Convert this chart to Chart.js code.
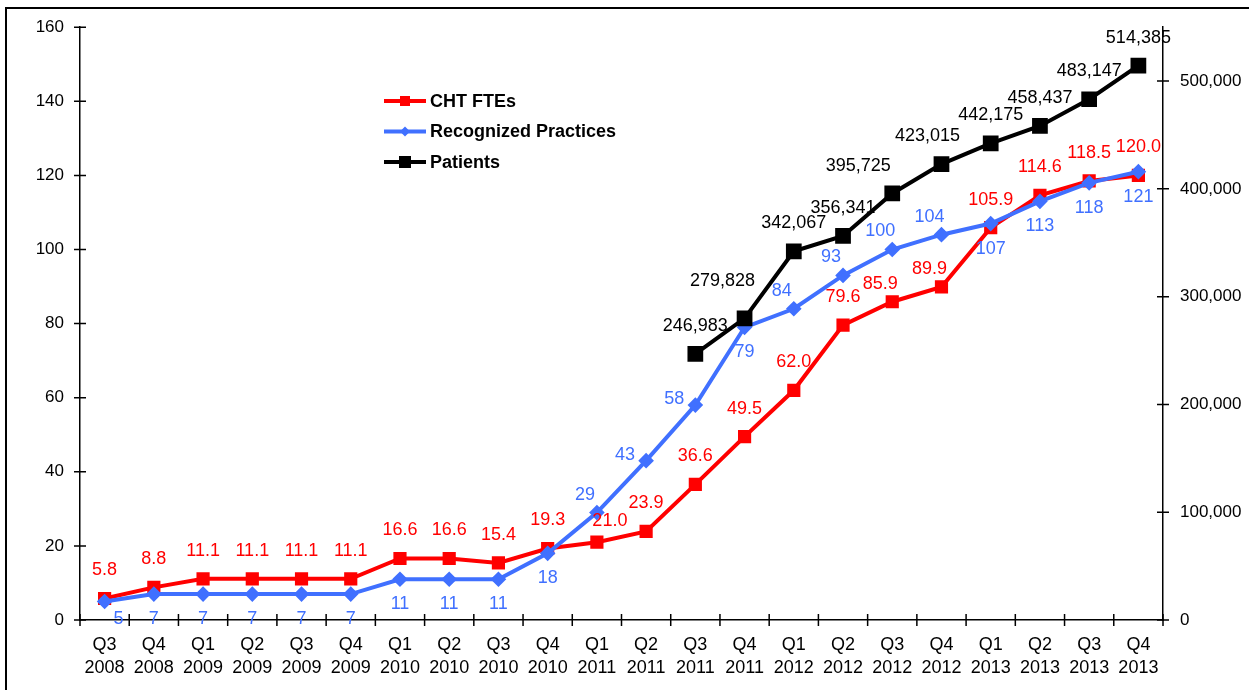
<!DOCTYPE html>
<html lang="en">
<head>
<meta charset="UTF-8">
<title>CHT FTEs, Recognized Practices and Patients</title>
<script src="https://cdn.jsdelivr.net/npm/chart.js"></script>
<style>
  html, body { margin: 0; padding: 0; background: #fff; }
  #wrap { position: relative; width: 1249px; height: 690px; }
</style>
</head>
<body>
<div id="wrap"><canvas id="chart" width="1249" height="690"></canvas></div>

<script>
    // categories
    const quarters = ['Q3', 'Q4', 'Q1', 'Q2', 'Q3', 'Q4', 'Q1', 'Q2', 'Q3', 'Q4', 'Q1',
                      'Q2', 'Q3', 'Q4', 'Q1', 'Q2', 'Q3', 'Q4', 'Q1', 'Q2', 'Q3', 'Q4'];
    const years = ['2008', '2008', '2009', '2009', '2009', '2009', '2010', '2010', '2010', '2010', '2011',
                   '2011', '2011', '2011', '2012', '2012', '2012', '2012', '2013', '2013', '2013', '2013'];

    // series
    const chtFtes = [5.8, 8.8, 11.1, 11.1, 11.1, 11.1, 16.6, 16.6, 15.4, 19.3, 21.0,
                     23.9, 36.6, 49.5, 62.0, 79.6, 85.9, 89.9, 105.9, 114.6, 118.5, 120.0];
    const practices = [5, 7, 7, 7, 7, 7, 11, 11, 11, 18, 29,
                       43, 58, 79, 84, 93, 100, 104, 107, 113, 118, 121];
    const patients = [null, null, null, null, null, null, null, null, null, null, null,
                      null, 246983, 279828, 342067, 356341, 395725, 423015, 442175, 458437, 483147, 514385];

    // axes
    const leftTicks = [0, 20, 40, 60, 80, 100, 120, 140, 160];
    const rightTicks = [0, 100000, 200000, 300000, 400000, 500000];

    // where each value label sits relative to its point
    const ftesSpots = ['n', 'n', 'n', 'n', 'n', 'n', 'n', 'n', 'n', 'n', 'ne',
                       'n', 'n', 'n', 'n', 'n', 'nw', 'nw', 'n', 'n', 'n', 'n'];
    const practiceSpots = ['se', 's', 's', 's', 's', 's', 's', 's', 's', 's', 'nw',
                           'w', 'w', 's', 'nw', 'nw', 'nw', 'nw', 's', 's', 's', 's'];
    const patientSpots = [null, null, null, null, null, null, null, null, null, null, null,
                          null, 'n', 'nwh', 'n', 'n', 'nww', 'nnw', 'n', 'n', 'n', 'n'];

    const RED = '#ff0000';
    const BLUE = '#4070ff';
    const BLACK = '#000000';
    const FONT = '"Liberation Sans", Arial, sans-serif';

    const spotOffset = {
        n: [0, -28], ne: [13, -21], s: [0, 25], se: [14, 18], nw: [-12, -18], w: [-21, -6],
        nwh: [-22, -37], nww: [-34, -27], nnw: [-14, -28]
    };

    const extras = {
        id: 'extras',
        beforeDraw(chart) {
            const ctx = chart.ctx;
            ctx.save();
            ctx.strokeStyle = '#000';
            ctx.lineWidth = 2;
            ctx.beginPath();
            ctx.moveTo(6, 690);
            ctx.lineTo(6, 8);
            ctx.lineTo(1249, 8);
            ctx.stroke();
            ctx.restore();
        },
        afterDraw(chart) {
            const ctx = chart.ctx;
            const area = chart.chartArea;
            const y = chart.scales.y, y1 = chart.scales.y1;
            ctx.save();
            ctx.strokeStyle = '#000';
            ctx.lineWidth = 1.5;
            ctx.beginPath();
            leftTicks.forEach(v => {
                const p = y.getPixelForValue(v);
                ctx.moveTo(area.left - 6, p); ctx.lineTo(area.left + 6, p);
            });
            rightTicks.forEach(v => {
                const p = y1.getPixelForValue(v);
                ctx.moveTo(area.right - 6, p); ctx.lineTo(area.right + 6, p);
            });
            const step = (area.right - area.left) / quarters.length;
            for (let i = 0; i <= quarters.length; i++) {
                const px = area.left + i * step;
                ctx.moveTo(px, area.bottom - 6); ctx.lineTo(px, area.bottom + 6);
            }
            ctx.stroke();

            // value labels
            ctx.font = '18px ' + FONT;
            ctx.textAlign = 'center';
            ctx.textBaseline = 'middle';
            const sets = [[0, chtFtes, ftesSpots, RED, v => v.toFixed(1)],
                          [1, practices, practiceSpots, BLUE, v => String(v)],
                          [2, patients, patientSpots, BLACK, v => v.toLocaleString('en-US')]];
            sets.forEach(([idx, vals, spots, col, fmt]) => {
                const meta = chart.getDatasetMeta(idx);
                ctx.fillStyle = col;
                vals.forEach((v, i) => {
                    if (v === null) return;
                    const el = meta.data[i];
                    const off = spotOffset[spots[i]];
                    ctx.fillText(fmt(v), el.x + off[0], el.y + off[1]);
                });
            });

            // legend
            const rows = [['CHT FTEs', RED, 'rect', 5], ['Recognized Practices', BLUE, 'rectRot', 5], ['Patients', BLACK, 'rect', 6]];
            ctx.font = 'bold 18px ' + FONT;
            ctx.textAlign = 'left';
            rows.forEach(([txt, col, shape, r], i) => {
                const ly = 101 + i * 30.5;
                ctx.strokeStyle = col;
                ctx.fillStyle = col;
                ctx.lineWidth = 4;
                ctx.beginPath();
                ctx.moveTo(384, ly); ctx.lineTo(426, ly);
                ctx.stroke();
                ctx.beginPath();
                if (shape === 'rect') {
                    ctx.rect(405 - r, ly - r, 2 * r, 2 * r);
                } else {
                    ctx.moveTo(405, ly - r); ctx.lineTo(405 + r, ly);
                    ctx.lineTo(405, ly + r); ctx.lineTo(405 - r, ly);
                    ctx.closePath();
                }
                ctx.fill();
                ctx.fillStyle = '#000';
                ctx.fillText(txt, 430, ly + 1);
            });
            ctx.restore();
        }
    };

    const ctx = document.getElementById('chart').getContext('2d');
    new Chart(ctx, {
        type: 'line',
        data: {
            labels: quarters.map((q, i) => [q, years[i]]),
            datasets: [{
                label: 'CHT FTEs',
                data: chtFtes,
                yAxisID: 'y',
                borderColor: RED,
                backgroundColor: RED,
                borderWidth: 4,
                pointStyle: 'rect',
                pointRadius: 6.5,
                order: 2
            }, {
                label: 'Recognized Practices',
                data: practices,
                yAxisID: 'y',
                borderColor: BLUE,
                backgroundColor: BLUE,
                borderWidth: 4,
                pointStyle: 'rectRot',
                pointRadius: 5,
                order: 1
            }, {
                label: 'Patients',
                data: patients,
                yAxisID: 'y1',
                borderColor: BLACK,
                backgroundColor: BLACK,
                borderWidth: 4,
                pointStyle: 'rect',
                pointRadius: 8.3,
                order: 0
            }]
        },
        options: {
            responsive: false,
            animation: false,
            layout: { padding: { top: 25, left: 0, right: 0, bottom: 0 } },
            plugins: {
                legend: { display: false },
                tooltip: { enabled: false }
            },
            elements: { line: { tension: 0 } },
            scales: {
                x: {
                    offset: true,
                    grid: { display: false, drawTicks: false },
                    border: { display: true, color: '#000', width: 1.5 },
                    ticks: {
                        autoSkip: false, maxRotation: 0, minRotation: 0, padding: 13,
                        color: '#000', font: { size: 18, family: FONT, lineHeight: 1.3 }
                    },
                    afterFit(s) { s.height = 70; }
                },
                y: {
                    position: 'left',
                    min: 0, max: 160,
                    grid: { display: false, drawTicks: false },
                    border: { display: true, color: '#000', width: 1.5 },
                    ticks: { autoSkip: false, padding: 16, color: '#000', font: { size: 17, family: FONT } },
                    afterBuildTicks(s) { s.ticks = leftTicks.map(v => ({ value: v })); },
                    afterFit(s) { s.width = 80; }
                },
                y1: {
                    position: 'right',
                    min: 0, max: 550000,
                    grid: { display: false, drawTicks: false },
                    border: { display: true, color: '#000', width: 1.5 },
                    ticks: {
                        autoSkip: false, padding: 17, color: '#000', font: { size: 17, family: FONT },
                        callback: v => Number(v).toLocaleString('en-US')
                    },
                    afterBuildTicks(s) { s.ticks = rightTicks.map(v => ({ value: v })); },
                    afterFit(s) { s.width = 86; }
                }
            }
        },
        plugins: [extras]
    });
</script>
</body>
</html>
